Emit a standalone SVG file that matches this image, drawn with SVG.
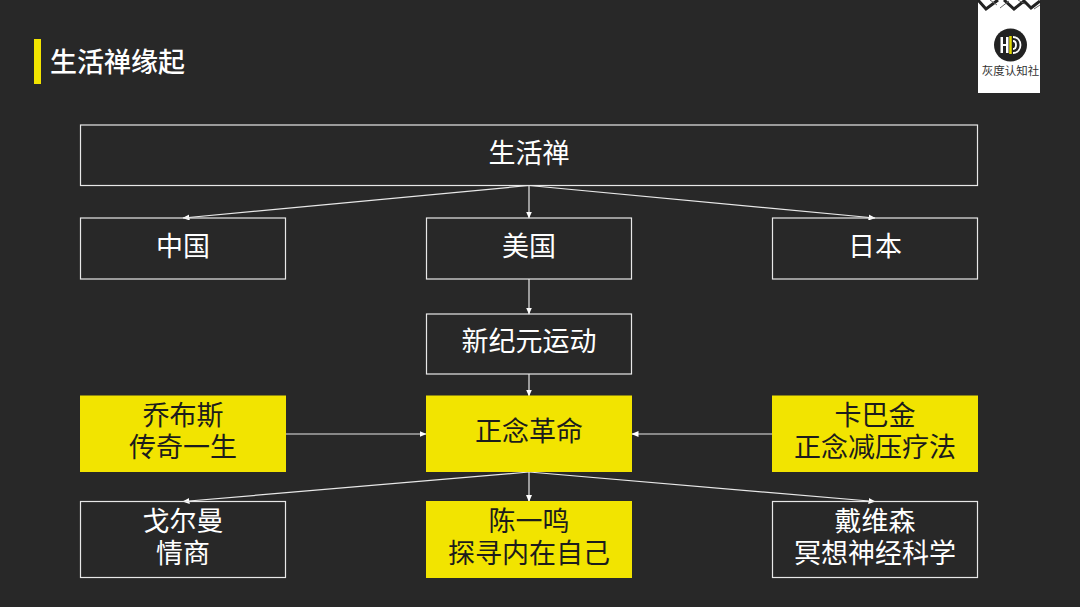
<svg xmlns="http://www.w3.org/2000/svg" width="1080" height="607" viewBox="0 0 1080 607">
<style>
.n{fill:none;stroke:#e8e8e8;stroke-width:1.2}
.y{fill:#f2e400}
.w{fill:#fff}
text{font-family:"Noto Sans CJK SC","Liberation Sans",sans-serif;text-anchor:middle;font-size:27px}
.tw{fill:#fff}
.tb{fill:#1c1c1c}
.c{stroke:#e8e8e8;stroke-width:1.2;fill:none;marker-end:url(#a)}
</style>
<defs><marker id="a" markerUnits="userSpaceOnUse" markerWidth="7" markerHeight="6" refX="6.5" refY="3" orient="auto"><path d="M0 0L7 3L0 6Z" fill="#fff"/></marker></defs>
<rect width="1080" height="607" fill="#282828"/>
<g id="title"><rect x="34" y="39" width="7" height="45" class="y"/><text x="117.500" y="71.500" style="font-size:27px;font-weight:500" class="tw">生活禅缘起</text></g>
<g id="logo">
<rect x="978" y="0" width="62" height="93" class="w"/>
<path d="M978 0L986 9L998 0M1004 0L1014 9L1024 1L1031 8L1040 1" fill="none" stroke="#222" stroke-width="3"/>
<path d="M990 0L997 5M1000 8L1009 1M1018 0L1025 4M1034 9L1040 5" fill="none" stroke="#666" stroke-width="1"/>
<circle cx="1010.500" cy="45" r="16.500" fill="#222"/>
<path d="M1000.500 37V53H1003V46H1006V53H1008.500V37H1006V44H1003V37Z" fill="#fff"/>
<path d="M1010.500 36V54" stroke="#e6dc00" stroke-width="2.500"/>
<path d="M1013 37C1023 37 1023 53 1013 53M1013 41C1017 41 1017 49 1013 49" stroke="#fff" stroke-width="1.800" fill="none"/>
<text x="1010.500" y="75" style="font-size:11.500px" fill="#333">灰度认知社</text>
</g>
<g id="connectors">
<path class="c" d="M529 185.500L183 218"/>
<path class="c" d="M529 185.500V218"/>
<path class="c" d="M529 185.500L875 218"/>
<path class="c" d="M529 279V314"/>
<path class="c" d="M529 374V396"/>
<path class="c" d="M286 434H426"/>
<path class="c" d="M772 434H632"/>
<path class="c" d="M529 472L183 501.500"/>
<path class="c" d="M529 472V501.500"/>
<path class="c" d="M529 472L875 501.500"/>
</g>
<g id="n1"><rect class="n" x="80.500" y="125" width="897" height="60.500"/><text x="529" y="163" class="tw">生活禅</text></g>
<g id="n2"><rect class="n" x="80.500" y="218" width="205" height="61"/><text x="183" y="256" class="tw">中国</text></g>
<g id="n3"><rect class="n" x="426.500" y="218" width="205" height="61"/><text x="529" y="256" class="tw">美国</text></g>
<g id="n4"><rect class="n" x="772.500" y="218" width="205" height="61"/><text x="875" y="256" class="tw">日本</text></g>
<g id="n5"><rect class="n" x="426.500" y="314" width="205" height="60"/><text x="529" y="351" class="tw">新纪元运动</text></g>
<g id="n6"><rect class="y" x="80" y="395.500" width="206" height="76.500"/><text x="183" y="425" class="tb">乔布斯</text><text x="183" y="457" class="tb">传奇一生</text></g>
<g id="n7"><rect class="y" x="426" y="395.500" width="206" height="76.500"/><text x="529" y="441" class="tb">正念革命</text></g>
<g id="n8"><rect class="y" x="772" y="395.500" width="206" height="76.500"/><text x="875" y="425" class="tb">卡巴金</text><text x="875" y="457" class="tb">正念减压疗法</text></g>
<g id="n9"><rect class="n" x="80.500" y="501.500" width="205" height="76"/><text x="183" y="531" class="tw">戈尔曼</text><text x="183" y="563" class="tw">情商</text></g>
<g id="n10"><rect class="y" x="426" y="501" width="206" height="77"/><text x="529" y="531" class="tb">陈一鸣</text><text x="529" y="563" class="tb">探寻内在自己</text></g>
<g id="n11"><rect class="n" x="772.500" y="501.500" width="205" height="76"/><text x="875" y="531" class="tw">戴维森</text><text x="875" y="563" class="tw">冥想神经科学</text></g>
</svg>
